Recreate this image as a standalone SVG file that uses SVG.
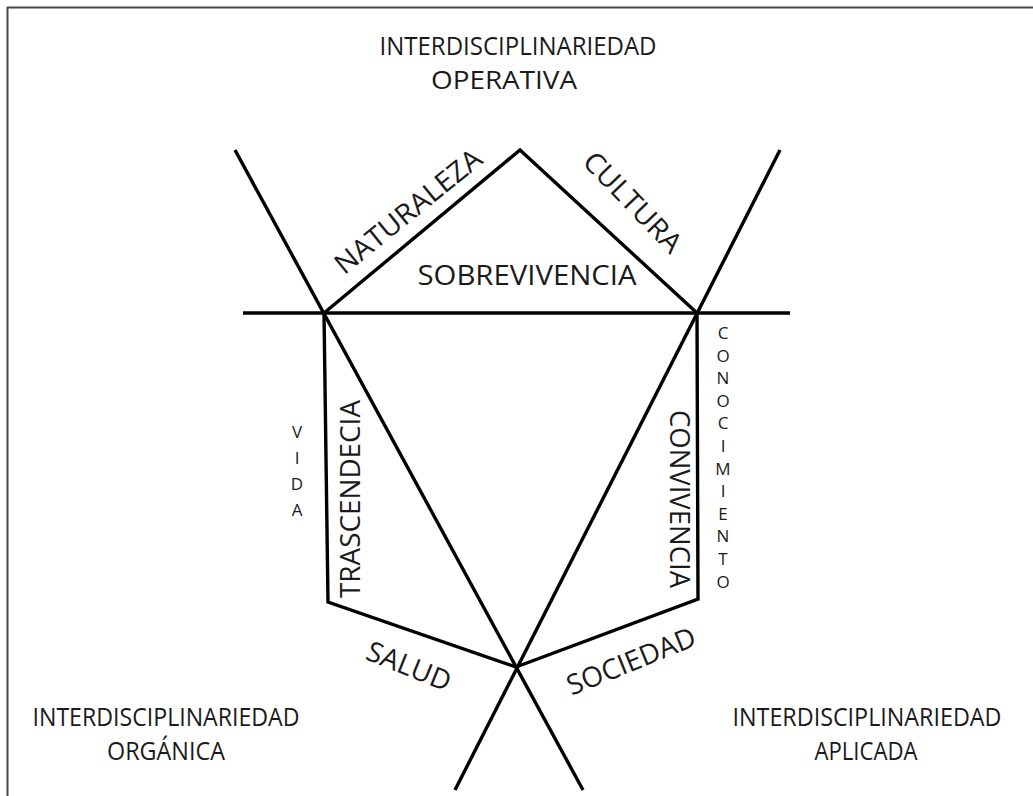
<svg xmlns="http://www.w3.org/2000/svg" width="1033" height="796" viewBox="0 0 1033 796">
<style>
.ln{stroke:#000;stroke-width:3.4;fill:none;stroke-linecap:butt;stroke-linejoin:miter}
.t{font-family:"Open Sans","Liberation Sans",sans-serif;fill:#1a1a1a;text-anchor:middle}
.title{font-size:26px}
.lbl{font-size:28px}
.v{font-size:17px}
</style>
<rect x="0" y="0" width="1033" height="796" fill="#fff"/>
<g id="frame">
<line x1="7" y1="7.5" x2="1033" y2="7.5" stroke="#444" stroke-width="2"/>
<line x1="7.5" y1="7" x2="7.5" y2="796" stroke="#444" stroke-width="2"/>
</g>
<g id="connectors">
<line class="ln" x1="243" y1="313" x2="790" y2="313"/>
<line class="ln" x1="235" y1="150" x2="583" y2="790"/>
<line class="ln" x1="780" y1="150" x2="455" y2="790"/>
<polyline class="ln" points="324,313 520,150 697,313"/>
<polyline class="ln" points="324,313 328,602 516,667 698,599 697,313"/>
</g>
<g id="title-operativa">
<text class="t title" x="518" y="55" textLength="277" lengthAdjust="spacingAndGlyphs">INTERDISCIPLINARIEDAD</text>
<text class="t title" x="504" y="89" textLength="146" lengthAdjust="spacingAndGlyphs">OPERATIVA</text>
</g>
<g id="title-organica">
<text class="t title" x="166" y="726" textLength="267" lengthAdjust="spacingAndGlyphs">INTERDISCIPLINARIEDAD</text>
<text class="t title" x="166" y="760" textLength="118" lengthAdjust="spacingAndGlyphs">ORGÁNICA</text>
</g>
<g id="title-aplicada">
<text class="t title" x="867" y="726" textLength="269" lengthAdjust="spacingAndGlyphs">INTERDISCIPLINARIEDAD</text>
<text class="t title" x="866" y="760" textLength="103" lengthAdjust="spacingAndGlyphs">APLICADA</text>
</g>
<g id="naturaleza"><text class="t lbl" transform="translate(408,211) rotate(-39)" y="10" textLength="180" lengthAdjust="spacingAndGlyphs">NATURALEZA</text></g>
<g id="cultura"><text class="t lbl" transform="translate(633,202) rotate(46)" y="10" textLength="128" lengthAdjust="spacingAndGlyphs">CULTURA</text></g>
<g id="sobrevivencia"><text class="t lbl" x="527" y="285" textLength="219" lengthAdjust="spacingAndGlyphs">SOBREVIVENCIA</text></g>
<g id="trascendecia"><text class="t lbl" transform="translate(350,499) rotate(-90)" y="10" textLength="198" lengthAdjust="spacingAndGlyphs">TRASCENDECIA</text></g>
<g id="convivencia"><text class="t lbl" transform="translate(680,499) rotate(90)" y="10" textLength="178" lengthAdjust="spacingAndGlyphs">CONVIVENCIA</text></g>
<g id="salud"><text class="t lbl" transform="translate(409,666) rotate(22)" y="10">SALUD</text></g>
<g id="sociedad"><text class="t lbl" transform="translate(631,661) rotate(-22)" y="10">SOCIEDAD</text></g>
<g id="vida">
<text class="t v" x="297" y="438">V</text>
<text class="t v" x="297" y="464">I</text>
<text class="t v" x="297" y="490">D</text>
<text class="t v" x="297" y="516">A</text>
</g>
<g id="conocimiento">
<text class="t v" x="723" y="339">C</text>
<text class="t v" x="723" y="362">O</text>
<text class="t v" x="723" y="384">N</text>
<text class="t v" x="723" y="407">O</text>
<text class="t v" x="723" y="429">C</text>
<text class="t v" x="723" y="452">I</text>
<text class="t v" x="723" y="475">M</text>
<text class="t v" x="723" y="497">I</text>
<text class="t v" x="723" y="520">E</text>
<text class="t v" x="723" y="542">N</text>
<text class="t v" x="723" y="565">T</text>
<text class="t v" x="723" y="588">O</text>
</g>
</svg>
